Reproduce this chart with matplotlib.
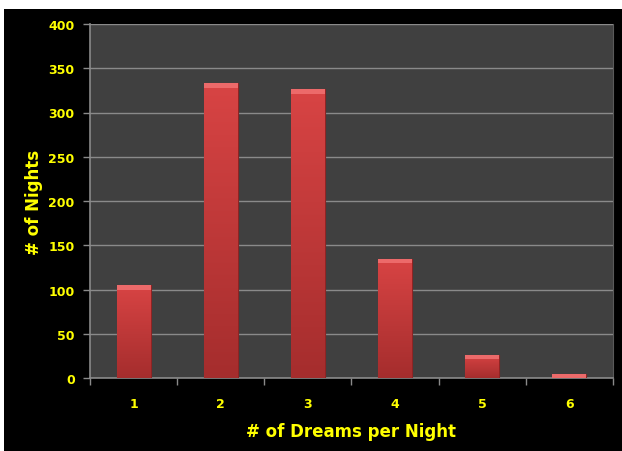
import numpy as np
import matplotlib.pyplot as plt
from matplotlib.patches import Rectangle
from matplotlib.colors import LinearSegmentedColormap

dreams = ["1", "2", "3", "4", "5", "6"]
nights = [105, 333, 326, 135, 26, 4]
yticks = [0, 50, 100, 150, 200, 250, 300, 350, 400]

yellow = "#ffff00"
gridc = "#8a8a8a"

fig = plt.figure(figsize=(6.22, 4.52), dpi=100)
fig.patch.set_facecolor("white")
# black chart background
fig.patches.append(Rectangle((4/622, 0), 1, 1 - 10/452, transform=fig.transFigure,
                             facecolor="black", edgecolor="none", zorder=-10))

ax = fig.add_axes([90/622, 1 - 379/452, 523/622, 354/452])
ax.set_facecolor("#404040")

x = np.arange(len(dreams))
bars = ax.bar(x, nights, width=0.39, color="#c83c3c", edgecolor="#8e2424",
              linewidth=0.8, zorder=3)

# vertical gradient inside each bar
grad = np.linspace(0, 1, 256).reshape(-1, 1)
cmap = LinearSegmentedColormap.from_list("redgrad", ["#a52d2d", "#d84444"])
for b in bars:
    bx, by = b.get_x(), b.get_y()
    w, h = b.get_width(), b.get_height()
    im = ax.imshow(grad, extent=[bx, bx + w, by, by + h], origin="lower",
                   cmap=cmap, aspect="auto", zorder=3.5)
    im.set_clip_path(b)
    # lighter bevel at the top
    top = min(h, 5)
    ax.add_patch(Rectangle((bx, by + h - top), w, top, facecolor="#ec6a6a",
                           edgecolor="none", zorder=4))

ax.set_xlim(-0.5, len(dreams) - 0.5)
ax.set_ylim(0, 400)
ax.set_yticks(yticks)
ax.yaxis.grid(True, color=gridc, linewidth=1.0, zorder=1)
ax.set_axisbelow(True)

ax.set_xticks(x)
ax.set_xticklabels(dreams)
ax.set_xticks(np.arange(-0.5, len(dreams)), minor=True)
ax.tick_params(axis="x", which="major", length=0, pad=14)
ax.tick_params(axis="x", which="minor", length=5, color=gridc, width=1)
ax.tick_params(axis="y", length=5, color=gridc, width=1, pad=6)

for lab in ax.get_xticklabels() + ax.get_yticklabels():
    lab.set_color(yellow)
    lab.set_fontweight("bold")
    lab.set_fontsize(9)

for side in ["top"]:
    ax.spines[side].set_visible(False)
ax.spines["right"].set_color("#5a5a5a")
ax.spines["right"].set_linewidth(0.8)
for side in ["left", "bottom"]:
    ax.spines[side].set_color(gridc)
    ax.spines[side].set_linewidth(1.2)

ax.set_xlabel("# of Dreams per Night", color=yellow, fontsize=12,
              fontweight="bold", labelpad=8)
ax.set_ylabel("# of Nights", color=yellow, fontsize=12,
              fontweight="bold", labelpad=4)

fig.savefig("out.png", dpi=100, facecolor=fig.get_facecolor())
